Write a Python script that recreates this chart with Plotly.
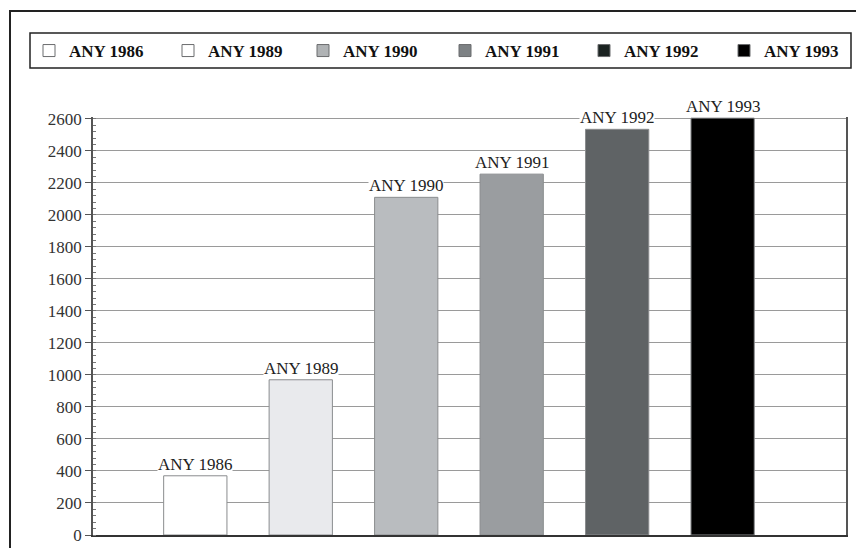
import plotly.graph_objects as go

categories = ["ANY 1986", "ANY 1989", "ANY 1990", "ANY 1991", "ANY 1992", "ANY 1993"]
values = [370, 970, 2110, 2255, 2535, 2605]
colors = ["#ffffff", "#e9eaed", "#b9bcbf", "#9a9da0", "#5f6365", "#000000"]
legend_colors = ["#ffffff", "#ffffff", "#b0b3b5", "#7d8184", "#1b2321", "#000000"]
y_ticks = list(range(0, 2601, 200))

# The page body has an 8px margin, so the figure is drawn 8px in from the window corner.
OFF = 8
W, H = 864 - OFF, 548 - OFF
ML, MR, MT, MB = 93 - OFF, 18, 117 - OFF, 13
PW, PH = W - ML - MR, H - MT - MB
YMAX = 2612

def px_x(p):
    return (p - OFF - ML) / PW

def px_y(p):
    return (H - MB - (p - OFF)) / PH

SERIF = "Liberation Serif, Times New Roman, serif"
legend_text_x = [69, 208, 343, 485, 624, 764]   # screen px where each legend text starts

fig = go.Figure()
legend_layouts = {}
for i, (cat, v, c, lc) in enumerate(zip(categories, values, colors, legend_colors)):
    lname = "legend" if i == 0 else f"legend{i + 1}"
    fig.add_trace(go.Bar(
        x=[cat], y=[v], name=cat, width=0.6,
        marker=dict(color=c, line=dict(color="#8a8c8e", width=1)),
        showlegend=False,
    ))
    fig.add_trace(go.Scatter(
        x=[None], y=[None], name=cat, legend=lname, mode="markers",
        marker=dict(symbol="square", size=12, color=lc, line=dict(color="#6a6c6e", width=1)),
        showlegend=True,
    ))
    fig.add_annotation(
        x=cat, y=v, text=cat, showarrow=False, yanchor="bottom", yshift=1,
        font=dict(family=SERIF, size=17, color="#222222"),
        bgcolor="white", borderpad=0,
    )
    legend_layouts[lname] = dict(
        orientation="h", xref="container", yref="container",
        x=(legend_text_x[i] - 40 - OFF) / W, xanchor="left",
        y=1 - (51 - OFF) / H, yanchor="middle",
        font=dict(family=SERIF, size=17, color="#111111", weight="bold"),
        bgcolor="rgba(0,0,0,0)", borderwidth=0,
        itemclick=False, itemdoubleclick=False,
    )

fig.update_layout(
    width=W, height=H,
    margin=dict(l=ML, r=MR, t=MT, b=MB, autoexpand=False),
    paper_bgcolor="white", plot_bgcolor="white",
    barmode="overlay",
    showlegend=True,
    xaxis=dict(
        type="category", range=[-0.97, 6.17],
        showticklabels=False, ticks="", showgrid=False,
        showline=True, linecolor="#333333", linewidth=1.5, zeroline=False,
        fixedrange=True, automargin=False,
    ),
    yaxis=dict(
        range=[0, YMAX], tickvals=y_ticks,
        tickfont=dict(family=SERIF, size=17, color="#333333"),
        ticks="outside", ticklen=6, tickcolor="#555555",
        showgrid=True, gridcolor="#9a9a9a", gridwidth=1,
        showline=True, linecolor="#555555", linewidth=1.5, mirror=True,
        zeroline=False,
        minor=dict(dtick=40, ticks="inside", ticklen=3, tickcolor="#777777", showgrid=False),
        fixedrange=True, automargin=False,
    ),
    shapes=[
        dict(type="rect", xref="paper", yref="paper",
             x0=px_x(30), x1=px_x(851), y0=px_y(68), y1=px_y(33),
             line=dict(color="#222222", width=1.5), fillcolor="rgba(0,0,0,0)", layer="above"),
        dict(type="line", xref="paper", yref="paper",
             x0=px_x(9), x1=px_x(870), y0=px_y(11), y1=px_y(11),
             line=dict(color="#222222", width=2)),
        dict(type="line", xref="paper", yref="paper",
             x0=px_x(10), x1=px_x(10), y0=px_y(11), y1=px_y(560),
             line=dict(color="#222222", width=2)),
    ],
    **legend_layouts,
)

fig.write_html("out.html")
